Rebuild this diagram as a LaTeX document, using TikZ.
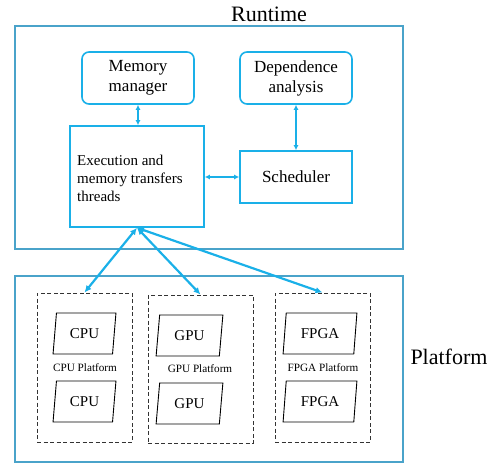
\documentclass[tikz,border=0pt]{standalone}
\usepackage{fontspec}
\setmainfont{Liberation Serif}
\usetikzlibrary{shapes.geometric,arrows.meta}
\definecolor{outerblue}{HTML}{4AA3CA}
\definecolor{innerblue}{HTML}{1AB0E8}
\begin{document}
\begin{tikzpicture}[x=1pt,y=-1pt,
  outerbox/.style={draw=outerblue,line width=1.6pt,minimum width=388pt},
  rbox/.style={draw=innerblue,line width=1.6pt,rounded corners=7pt,minimum width=112pt,minimum height=52pt,align=center,font=\rmfamily\fontsize{17}{20}\selectfont,inner sep=0pt},
  sbox/.style={draw=innerblue,line width=1.6pt,minimum width=112pt,minimum height=52pt,align=center,font=\rmfamily\fontsize{17}{20}\selectfont,inner sep=0pt},
  dbox/.style={draw=black!80,line width=0.9pt,dash pattern=on 4pt off 2.5pt,inner sep=0pt},
  para/.style={draw,line width=0.9pt,trapezium,trapezium left angle=80,trapezium right angle=100,trapezium stretches=true,minimum width=63pt,minimum height=41pt,inner sep=0pt,font=\rmfamily\fontsize{15}{18}\selectfont},
  plabel/.style={font=\rmfamily\fontsize{11.2}{13}\selectfont,inner sep=0pt},
  link/.style={draw=innerblue,line width=1.4pt,{Latex[length=5pt,width=5pt]}-{Latex[length=5pt,width=5pt]}},
  biglink/.style={draw=innerblue,line width=2.2pt,{Latex[length=7pt,width=6.5pt]}-{Latex[length=7pt,width=6.5pt]}},
  ttl/.style={font=\rmfamily\fontsize{22}{26}\selectfont,inner sep=0pt}]
\useasboundingbox (0,0) rectangle (495,464);
% Runtime
\node[outerbox,minimum height=223pt] (rt) at (209,137.5) {};
\node[ttl] (rtt) at (269,14) {Runtime};
\node[rbox] (mm) at (138,78) {Memory\\manager};
\node[rbox] (da) at (296,78) {Dependence\\analysis};
\node[sbox,minimum width=134pt,minimum height=101pt] (ex) at (137,176.5) {};
\node[anchor=west,align=left,font=\rmfamily\fontsize{15}{18}\selectfont,inner sep=0pt] (ext) at (77,178) {Execution and\\memory transfers\\threads};
\node[sbox] (sc) at (296,177) {Scheduler};
% Platform
\node[outerbox,minimum height=186pt] (pf) at (209,369) {};
\node[ttl] (pft) at (449,357) {Platform};
\node[dbox,minimum width=95pt,minimum height=149pt] (cpub) at (84.5,367.5) {};
\node[dbox,minimum width=105pt,minimum height=148pt] (gpub) at (200.5,369) {};
\node[dbox,minimum width=95pt,minimum height=149pt] (fpgab) at (322.5,367.5) {};
\node[para] (c1) at (84.5,333.5) {CPU};
\node[para] (c2) at (84.5,401.5) {CPU};
\node[plabel] (cl) at (85,368) {CPU Platform};
\node[para,minimum width=67pt] (g1) at (189.5,335.5) {GPU};
\node[para,minimum width=67pt] (g2) at (189.5,403.5) {GPU};
\node[plabel] (gl) at (200,369) {GPU Platform};
\node[para,minimum width=74pt] (f1) at (320,333.5) {FPGA};
\node[para,minimum width=74pt] (f2) at (320,401.5) {FPGA};
\node[plabel] (fl) at (323,368) {FPGA Platform};
% links
\draw[link] (mm.south) -- (ex.north-|mm.south);
\draw[link] (da.south) -- (sc.north);
\draw[link] (ex.east|-sc.west) -- (sc.west);
\draw[biglink] (ex.south) -- (cpub.north);
\draw[biglink] (ex.south) -- (gpub.north);
\draw[biglink] (ex.south) -- (fpgab.north);
\end{tikzpicture}
\end{document}
